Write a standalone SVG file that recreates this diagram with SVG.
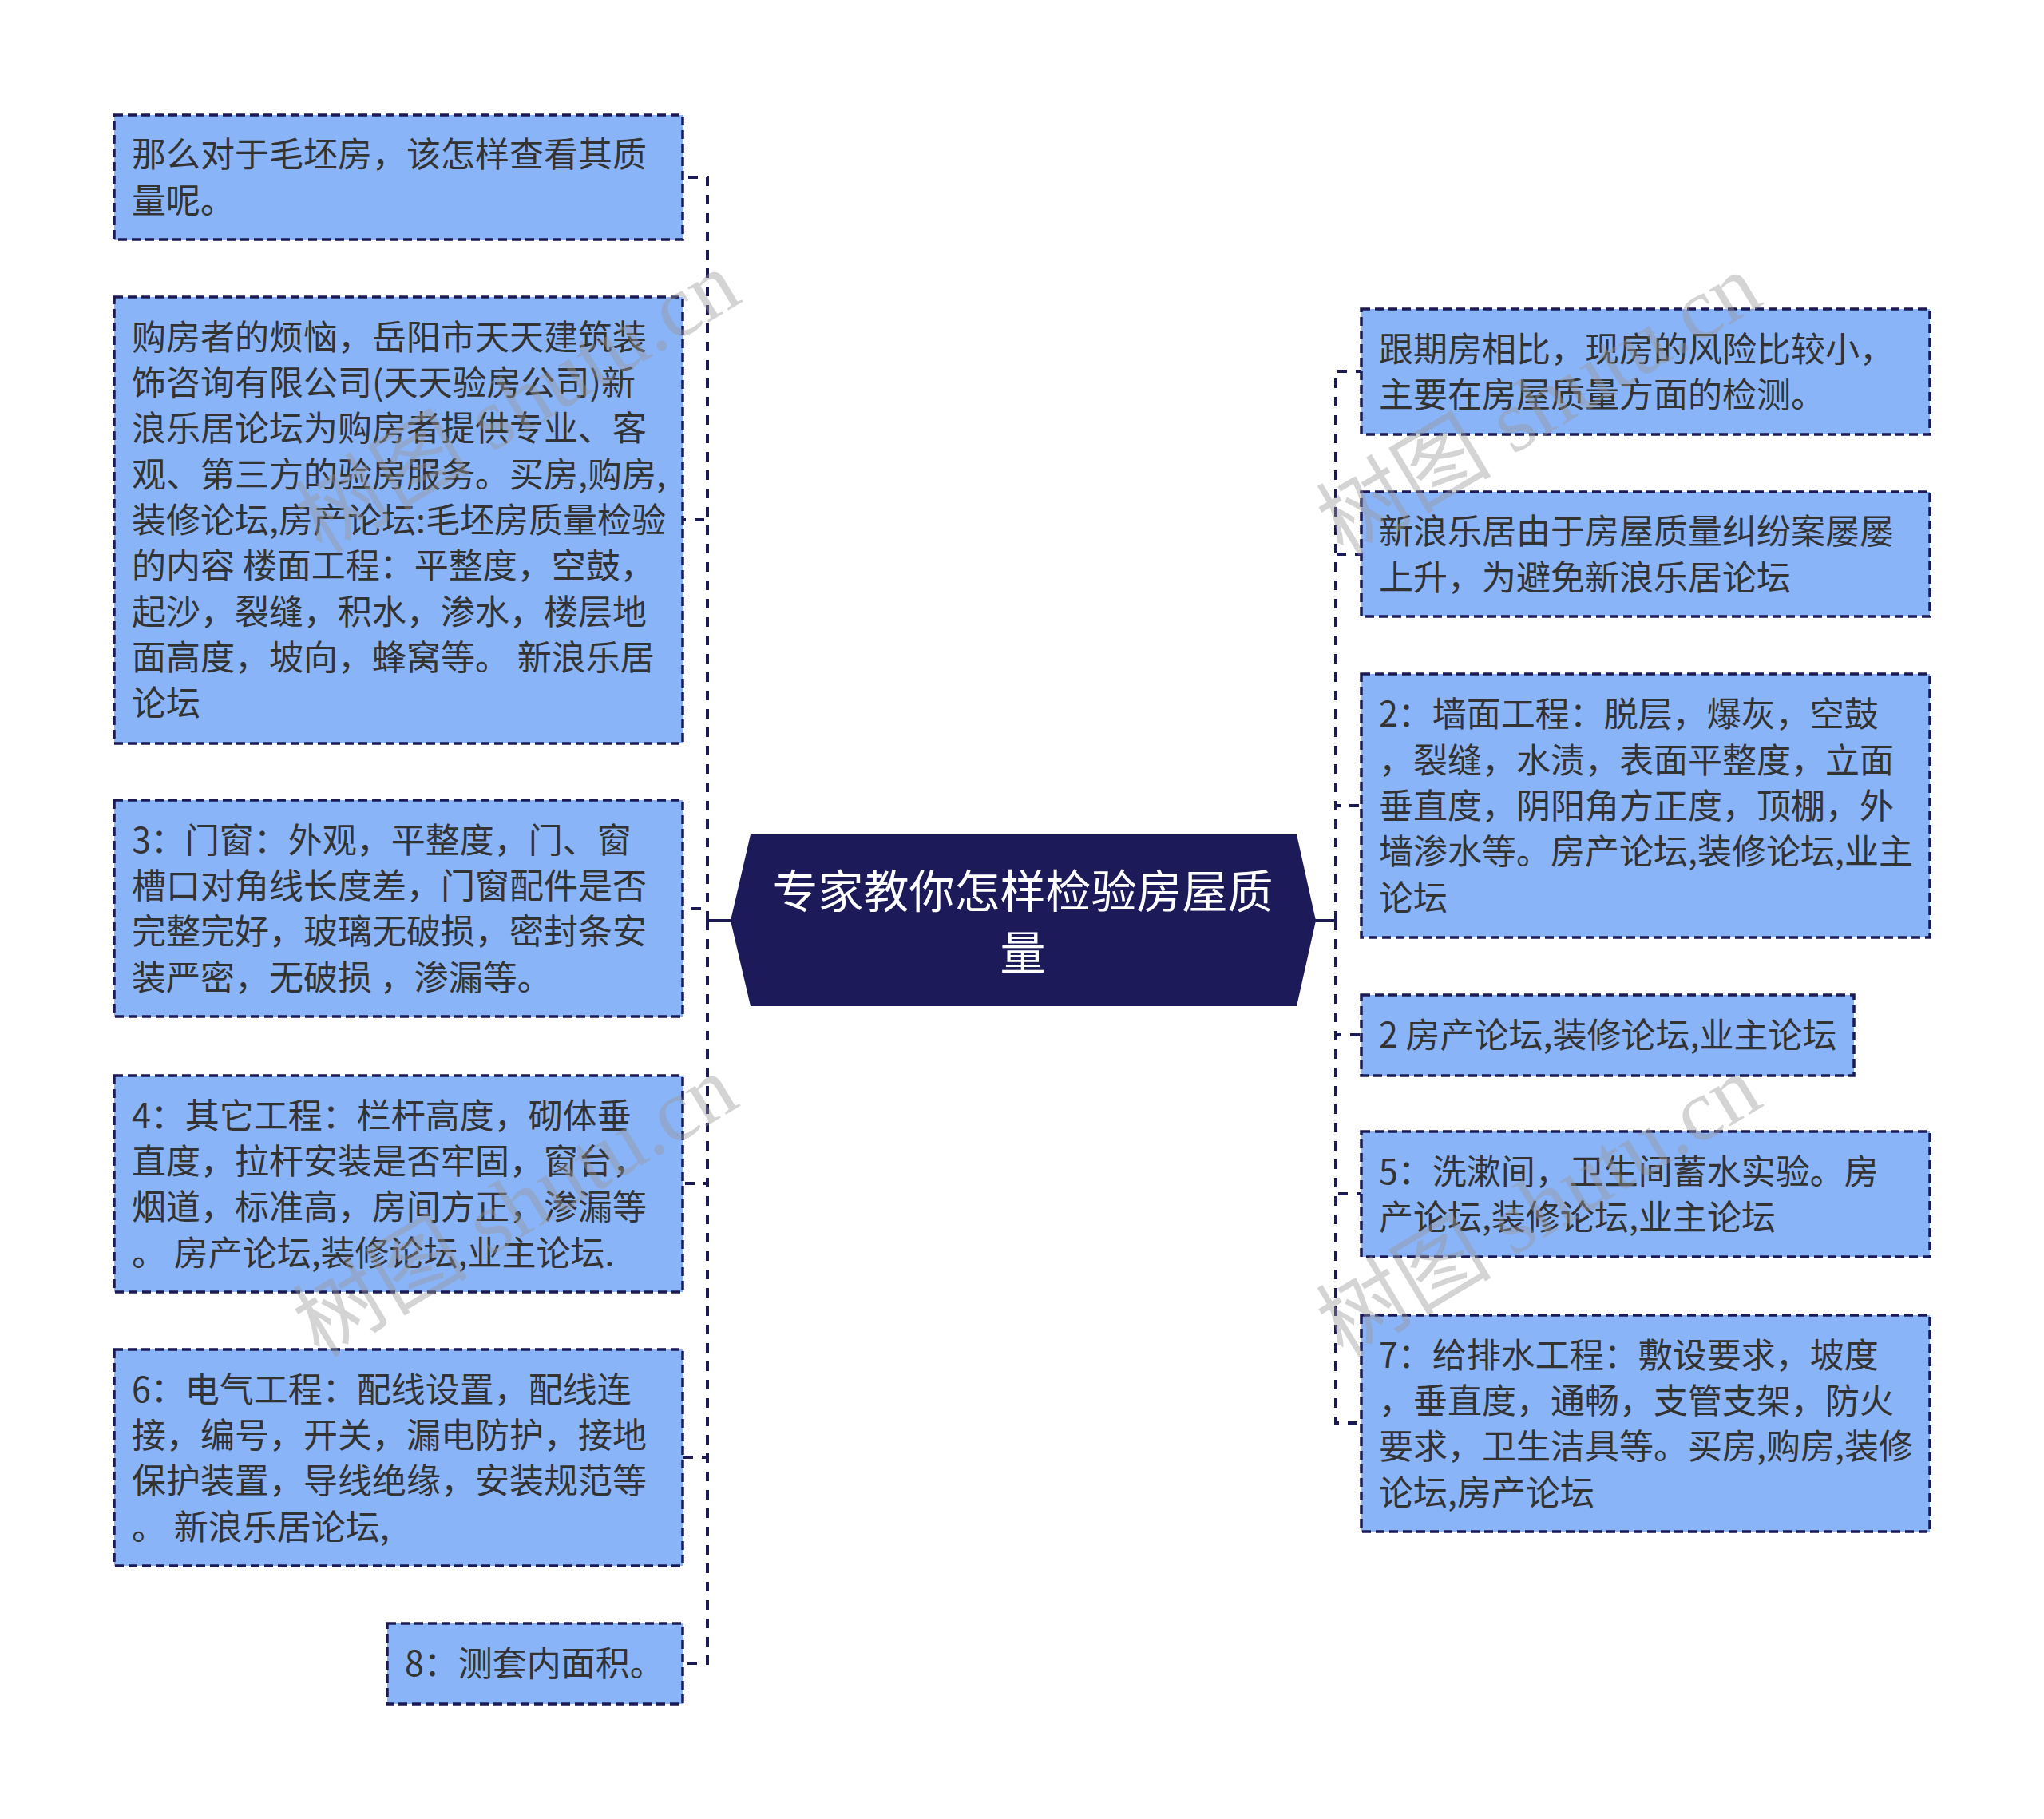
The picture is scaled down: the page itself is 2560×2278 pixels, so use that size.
<svg xmlns="http://www.w3.org/2000/svg" width="2560" height="2278" viewBox="0 0 2560 2278">
<style>
.box{fill:#8ab4f8;stroke:#1c1a55;stroke-width:3.5;stroke-dasharray:11 6}
.t{font-family:"Noto Sans CJK SC","Noto Sans",sans-serif;font-size:43px;fill:#333333}
.title{font-family:"Noto Sans CJK SC","Noto Sans",sans-serif;font-size:57px;fill:#ffffff;text-anchor:middle}
.conn{fill:none;stroke:#1c1a55;stroke-width:4;stroke-dasharray:12 11}
.solid{fill:none;stroke:#1c1a55;stroke-width:4}
.wm{font-family:"Liberation Serif","Noto Sans CJK SC",serif;font-size:110px;fill:#999999;fill-opacity:0.42;text-anchor:middle}
</style>
<rect x="0" y="0" width="2560" height="2278" fill="#ffffff"/>
<g id="connectors">
<line class="solid" x1="916" y1="1153" x2="884" y2="1153"/>
<line class="solid" x1="1646" y1="1153" x2="1675" y2="1153"/>
<path class="conn" d="M886 1153 L886 222 L855 222"/>
<path class="conn" d="M886 1153 L886 651 L855 651"/>
<path class="conn" d="M886 1153 L886 1138 L855 1138"/>
<path class="conn" d="M886 1153 L886 1482 L855 1482"/>
<path class="conn" d="M886 1153 L886 1825 L855 1825"/>
<path class="conn" d="M886 1153 L886 2083 L855 2083"/>
<path class="conn" d="M1673 1153 L1673 465 L1705 465"/>
<path class="conn" d="M1673 1153 L1673 694 L1705 694"/>
<path class="conn" d="M1673 1153 L1673 1009 L1705 1009"/>
<path class="conn" d="M1673 1153 L1673 1296 L1705 1296"/>
<path class="conn" d="M1673 1153 L1673 1495 L1705 1495"/>
<path class="conn" d="M1673 1153 L1673 1782 L1705 1782"/>
</g>
<g id="center">
<polygon points="940,1045 1624,1045 1648,1153 1624,1260 940,1260 915,1153" fill="#1c1a58"/>
<text class="title" x="1281" y="1137">专家教你怎样检验房屋质</text>
<text class="title" x="1281" y="1214">量</text>
</g>
<g id="L1">
<rect class="box" x="143" y="144" width="712" height="156"/>
<text class="t" x="165" y="209">那么对于毛坯房，该怎样查看其质</text>
<text class="t" x="165" y="267">量呢。</text>
</g>
<g id="L2">
<rect class="box" x="143" y="372" width="712" height="559"/>
<text class="t" x="165" y="438">购房者的烦恼，岳阳市天天建筑装</text>
<text class="t" x="165" y="495">饰咨询有限公司(天天验房公司)新</text>
<text class="t" x="165" y="552">浪乐居论坛为购房者提供专业、客</text>
<text class="t" x="165" y="610">观、第三方的验房服务。买房,购房,</text>
<text class="t" x="165" y="667">装修论坛,房产论坛:毛坯房质量检验</text>
<text class="t" x="165" y="724">的内容 楼面工程：平整度，空鼓，</text>
<text class="t" x="165" y="782">起沙，裂缝，积水，渗水，楼层地</text>
<text class="t" x="165" y="839">面高度，坡向，蜂窝等。 新浪乐居</text>
<text class="t" x="165" y="896">论坛</text>
</g>
<g id="L3">
<rect class="box" x="143" y="1002" width="712" height="271"/>
<text class="t" x="165" y="1068">3：门窗：外观，平整度，门、窗</text>
<text class="t" x="165" y="1125">槽口对角线长度差，门窗配件是否</text>
<text class="t" x="165" y="1182">完整完好，玻璃无破损，密封条安</text>
<text class="t" x="165" y="1240">装严密，无破损 ，渗漏等。</text>
</g>
<g id="L4">
<rect class="box" x="143" y="1347" width="712" height="271"/>
<text class="t" x="165" y="1413">4：其它工程：栏杆高度，砌体垂</text>
<text class="t" x="165" y="1470">直度，拉杆安装是否牢固，窗台，</text>
<text class="t" x="165" y="1527">烟道，标准高，房间方正，渗漏等</text>
<text class="t" x="165" y="1585">。 房产论坛,装修论坛,业主论坛.</text>
</g>
<g id="L5">
<rect class="box" x="143" y="1690" width="712" height="271"/>
<text class="t" x="165" y="1756">6：电气工程：配线设置，配线连</text>
<text class="t" x="165" y="1813">接，编号，开关，漏电防护，接地</text>
<text class="t" x="165" y="1870">保护装置，导线绝缘，安装规范等</text>
<text class="t" x="165" y="1928">。 新浪乐居论坛,</text>
</g>
<g id="L6">
<rect class="box" x="485" y="2033" width="370" height="101"/>
<text class="t" x="507" y="2099">8：测套内面积。</text>
</g>
<g id="R1">
<rect class="box" x="1705" y="387" width="712" height="157"/>
<text class="t" x="1727" y="453">跟期房相比，现房的风险比较小，</text>
<text class="t" x="1727" y="510">主要在房屋质量方面的检测。</text>
</g>
<g id="R2">
<rect class="box" x="1705" y="616" width="712" height="156"/>
<text class="t" x="1727" y="681">新浪乐居由于房屋质量纠纷案屡屡</text>
<text class="t" x="1727" y="739">上升，为避免新浪乐居论坛</text>
</g>
<g id="R3">
<rect class="box" x="1705" y="844" width="712" height="330"/>
<text class="t" x="1727" y="910">2：墙面工程：脱层，爆灰，空鼓</text>
<text class="t" x="1727" y="968">，裂缝，水渍，表面平整度，立面</text>
<text class="t" x="1727" y="1025">垂直度，阴阳角方正度，顶棚，外</text>
<text class="t" x="1727" y="1082">墙渗水等。房产论坛,装修论坛,业主</text>
<text class="t" x="1727" y="1140">论坛</text>
</g>
<g id="R4">
<rect class="box" x="1705" y="1246" width="617" height="101"/>
<text class="t" x="1727" y="1312">2 房产论坛,装修论坛,业主论坛</text>
</g>
<g id="R5">
<rect class="box" x="1705" y="1417" width="712" height="157"/>
<text class="t" x="1727" y="1483">5：洗漱间，卫生间蓄水实验。房</text>
<text class="t" x="1727" y="1540">产论坛,装修论坛,业主论坛</text>
</g>
<g id="R6">
<rect class="box" x="1705" y="1647" width="712" height="271"/>
<text class="t" x="1727" y="1713">7：给排水工程：敷设要求，坡度</text>
<text class="t" x="1727" y="1770">，垂直度，通畅，支管支架，防火</text>
<text class="t" x="1727" y="1827">要求，卫生洁具等。买房,购房,装修</text>
<text class="t" x="1727" y="1885">论坛,房产论坛</text>
</g>
<g id="watermarks">
<text class="wm" transform="translate(648,503) rotate(-31)" x="0" y="38">树图 shutu.cn</text>
<text class="wm" transform="translate(1927,506) rotate(-31)" x="0" y="38">树图 shutu.cn</text>
<text class="wm" transform="translate(645,1510) rotate(-31)" x="0" y="38">树图 shutu.cn</text>
<text class="wm" transform="translate(1927,1510) rotate(-31)" x="0" y="38">树图 shutu.cn</text>
</g>
</svg>
